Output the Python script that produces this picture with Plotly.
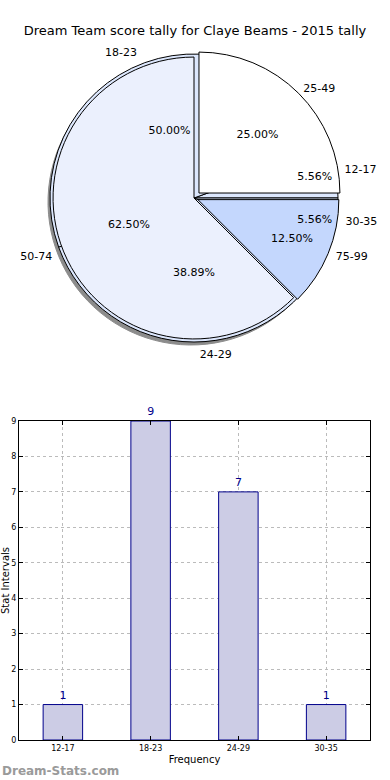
import plotly.graph_objects as go

# ---- data ----
title_text = "Dream Team score tally for Claye Beams - 2015 tally"
age_labels = ["12-17", "18-23", "24-29", "30-35"]
age_counts = [1, 9, 7, 1]
score_labels = ["25-49", "50-74", "75-99"]
score_counts = [2, 5, 1]
score_colors = ["#ffffff", "#ebf0fd", "#c4d7fd"]

W, H = 390, 780
def px_x(v): return v / W
def px_y(v): return 1 - v / H

font = "DejaVu Sans"
clear = "rgba(0,0,0,0)"

# matplotlib-style start: first slice begins at 3 o'clock, counterclockwise
def start_rot(vals):
    return 90 - 360.0 * vals[0] / sum(vals)

cx, cy = 194, 198
R_score, R_age, R_lab = 148, 144, 150
def dom(r, dx=0, dy=0):
    return dict(x=[px_x(cx - r + dx), px_x(cx + r + dx)], y=[px_y(cy + r + dy), px_y(cy - r + dy)])

fig = go.Figure()

def common(vals, d, drot=0):
    return dict(domain=d, sort=False, direction="counterclockwise",
                rotation=start_rot(vals) + drot, showlegend=False, hoverinfo="skip")

# shadow of the pie
fig.add_trace(go.Pie(labels=score_labels, values=score_counts,
                     marker=dict(colors=["#8c8c8c"] * 3, line=dict(color="#8c8c8c", width=1)),
                     textinfo="none", **common(score_counts, dom(R_age - 1, -3, 4))))
# age pie underneath
fig.add_trace(go.Pie(labels=age_labels, values=age_counts,
                     marker=dict(colors=["#dce7fd"] * 4, line=dict(color="#000000", width=1)),
                     textinfo="none", **common(age_counts, dom(R_age))))
# score pie: filled slices with percentages
fig.add_trace(go.Pie(labels=score_labels, values=score_counts, pull=[0.05, 0.0, 0.03],
                     marker=dict(colors=score_colors, line=dict(color="#000000", width=1)),
                     texttemplate="%{percent:.2%}", textposition="inside",
                     insidetextorientation="horizontal",
                     textfont=dict(family=font, size=11, color="#000000"),
                     **common(score_counts, dom(R_score))))
# score pie labels
fig.add_trace(go.Pie(labels=score_labels, values=score_counts,
                     marker=dict(colors=[clear] * 3, line=dict(width=0)),
                     texttemplate="%{label}", textposition="outside",
                     textfont=dict(family=font, size=11, color="#000000"),
                     **common(score_counts, dom(R_lab))))
# age pie: percentages
fig.add_trace(go.Pie(labels=age_labels, values=age_counts,
                     marker=dict(colors=[clear] * 4, line=dict(width=0)),
                     texttemplate="%{percent:.2%}", textposition="inside",
                     insidetextorientation="horizontal",
                     textfont=dict(family=font, size=11, color="#000000"),
                     **common(age_counts, dom(R_age))))
# age pie labels
fig.add_trace(go.Pie(labels=age_labels, values=age_counts,
                     marker=dict(colors=[clear] * 4, line=dict(width=0)),
                     texttemplate="%{label}", textposition="outside",
                     textfont=dict(family=font, size=11, color="#000000"),
                     **common(age_counts, dom(R_lab), drot=-1)))

# bar chart
fig.add_trace(go.Bar(x=age_labels, y=age_counts, width=0.45,
                     marker=dict(color="#ccccE5", line=dict(color="#00008b", width=1)),
                     text=age_counts, textposition="outside", cliponaxis=False,
                     textfont=dict(family=font, size=11, color="#00008b"),
                     xaxis="x", yaxis="y", showlegend=False, hoverinfo="skip"))

grid = dict(showgrid=True, gridcolor="#bbbbbb", griddash="dot", gridwidth=1,
            showline=True, linecolor="#000000", linewidth=1, mirror="ticks",
            ticks="inside", ticklen=4, tickcolor="#000000", automargin=False,
            tickfont=dict(family=font, size=8, color="#000000"), zeroline=False)

fig.update_layout(
    width=W, height=H, margin=dict(l=0, r=0, t=0, b=0, autoexpand=False),
    paper_bgcolor="#ffffff", plot_bgcolor="#ffffff",
    font=dict(family=font, color="#000000"),
    uniformtext=dict(minsize=11, mode="show"),
    title=dict(text=title_text, x=0.5, xanchor="center", y=px_y(30), yanchor="middle",
               font=dict(family=font, size=13, color="#000000")),
    xaxis=dict(domain=[px_x(19), px_x(370)], anchor="y", range=[-0.5, 3.5],
               title=dict(text="Frequency", font=dict(family=font, size=10), standoff=4), **grid),
    yaxis=dict(domain=[px_y(740), px_y(421)], anchor="x", range=[0, 9], dtick=1,
               title=dict(text="Stat Intervals", font=dict(family=font, size=10), standoff=4), **grid),
    annotations=[dict(text="<b>Dream-Stats.com</b>", x=0, y=px_y(771), xref="paper", yref="paper",
                      xanchor="left", yanchor="middle", showarrow=False,
                      font=dict(family=font, size=12, color="#9a9a9a"))],
)

fig.write_html("out.html", config={"displayModeBar": False},
               post_script="document.body.style.margin='0';")
